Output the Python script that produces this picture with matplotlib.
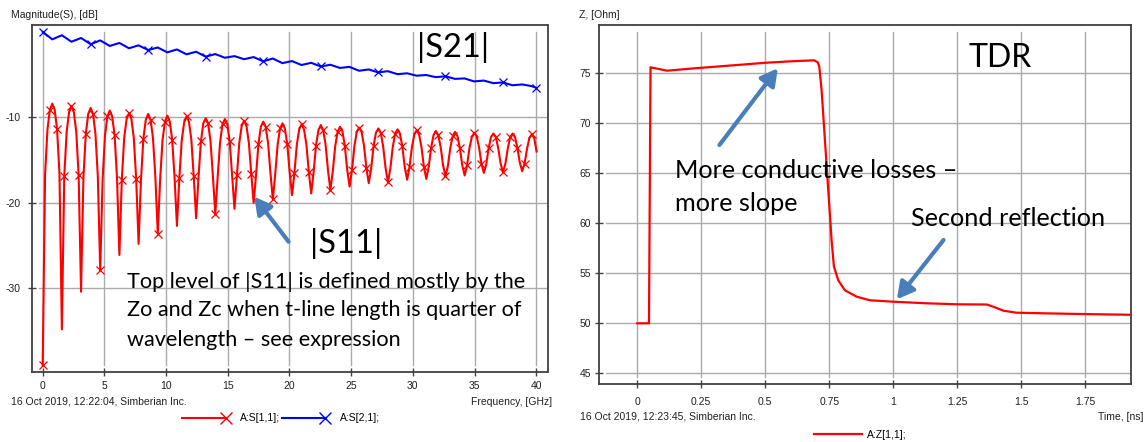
import numpy as np
import matplotlib
matplotlib.use("Agg")
import matplotlib.pyplot as plt
from matplotlib.lines import Line2D
from matplotlib.legend_handler import HandlerLine2D

plt.rcParams["axes.unicode_minus"] = False

# ------------------------------------------------------------------ data
s11_step_ghz = 0.1943
s11_db = [
    -39.0, -16.7, -11.4, -9.1, -8.4, -9.1, -11.4, -16.6,
    -34.8, -16.9, -11.7, -9.4, -8.7, -9.4, -11.7, -16.8,
    -30.4, -17.0, -11.9, -9.6, -8.9, -9.6, -11.9, -16.9,
    -27.9, -17.2, -12.1, -9.9, -9.2, -9.9, -12.1, -17.1,
    -26.1, -17.3, -12.4, -10.2, -9.5, -10.2, -12.4, -17.2,
    -24.8, -17.3, -12.5, -10.3, -9.6, -10.3, -12.4, -17.0,
    -23.6, -17.2, -12.6, -10.5, -9.8, -10.5, -12.6, -17.0,
    -22.7, -17.1, -12.7, -10.6, -9.9, -10.5, -12.6, -16.9,
    -21.8, -17.0, -12.8, -10.7, -10.1, -10.7, -12.8, -16.9,
    -21.3, -16.9, -12.9, -10.8, -10.2, -10.8, -12.8, -16.7,
    -20.7, -16.8, -13.0, -11.0, -10.4, -11.0, -13.0, -16.6,
    -20.0, -16.7, -13.1, -11.1, -10.5, -11.1, -13.0, -16.5,
    -19.6, -16.6, -13.2, -11.3, -10.7, -11.3, -13.1, -16.4,
    -19.1, -16.5, -13.2, -11.4, -10.8, -11.4, -13.2, -16.4,
    -18.9, -16.4, -13.3, -11.5, -10.9, -11.5, -13.2, -16.2,
    -18.5, -16.3, -13.4, -11.7, -11.1, -11.6, -13.3, -16.1,
    -18.1, -16.2, -13.4, -11.7, -11.2, -11.7, -13.3, -15.9,
    -17.7, -16.0, -13.4, -11.8, -11.3, -11.8, -13.4, -15.9,
    -17.6, -16.0, -13.5, -11.9, -11.4, -11.9, -13.4, -15.8,
    -17.3, -15.8, -13.5, -12.0, -11.5, -12.0, -13.5, -15.8,
    -17.2, -15.8, -13.6, -12.1, -11.6, -12.1, -13.5, -15.6,
    -16.9, -15.7, -13.6, -12.2, -11.7, -12.2, -13.6, -15.6,
    -16.8, -15.6, -13.6, -12.3, -11.8, -12.2, -13.5, -15.4,
    -16.5, -15.5, -13.6, -12.3, -11.9, -12.3, -13.6, -15.4,
    -16.4, -15.4, -13.6, -12.3, -11.9, -12.3, -13.6, -15.3,
    -16.3, -15.4, -13.7, -12.4, -12.0, -12.4, -14.0,
]

# |S21| sampled every s21_step_ghz, last sample at s21_end_ghz
s21_step_ghz = 0.777
s21_end_ghz = 40.0
s21_db = [
    0.0, -0.88, -0.40, -1.16, -0.72, -1.45, -1.00, -1.65, -1.30, -1.92,
    -1.58, -2.13, -1.83, -2.40, -2.06, -2.63, -2.33, -2.90, -2.60, -3.03,
    -2.84, -3.20, -2.95, -3.45, -3.12, -3.66, -3.42, -3.88, -3.62, -4.05,
    -3.85, -4.22, -4.10, -4.55, -4.40, -4.75, -4.60, -4.95, -4.85, -5.13,
    -5.05, -5.30, -5.20, -5.50, -5.45, -5.80, -5.70, -6.00, -5.92, -6.25,
    -6.15, -6.35, -6.55,
]
s21_marker_idx = [0, 5, 11, 17, 23, 29, 35, 42, 48, 52]

# TDR impedance
tdr_time_ns = [0.0, 0.046, 0.052, 0.117, 0.20, 0.30, 0.40, 0.50, 0.60, 0.69,
               0.705, 0.711, 0.720, 0.733, 0.746, 0.759, 0.768, 0.785, 0.811,
               0.857, 0.909, 1.00, 1.13, 1.25, 1.365, 1.39, 1.43, 1.48, 1.586,
               1.73, 1.93]
tdr_z_ohm = [50.0, 50.0, 75.6, 75.26, 75.45, 75.65, 75.85, 76.05, 76.2, 76.3,
             76.1, 75.66, 73.3, 68.3, 63.3, 58.3, 55.7, 54.3, 53.3,
             52.66, 52.3, 52.16, 52.0, 51.9, 51.88, 51.66, 51.26, 51.06, 51.0,
             50.93, 50.85]

freq_ticks = [0, 5, 10, 15, 20, 25, 30, 35, 40]
mag_ticks = [-30, -20, -10]
time_ticks = [0, 0.25, 0.5, 0.75, 1.0, 1.25, 1.5, 1.75]
time_tick_labels = ["0", "0.25", "0.5", "0.75", "1", "1.25", "1.5", "1.75"]
z_ticks = [45, 50, 55, 60, 65, 70, 75]

# ------------------------------------------------------------------ figure
W, H = 1144, 442
fig = plt.figure(figsize=(W / 100, H / 100), dpi=100)
fig.patch.set_facecolor("white")

TICK_FONT = "Liberation Sans"
ANN_FONT = "Lato"
SPINE = "#404040"
GRID = "#ABABAB"
ARROW = "#4A7EBB"


def px_axes(l, t, r, b):
    return fig.add_axes([l / W, 1 - b / H, (r - l) / W, (b - t) / H])


def style_axes(ax, inset_px=7):
    for s in ax.spines.values():
        s.set_color(SPINE)
        s.set_linewidth(1.3)
    bb = ax.get_position()
    wpx, hpx = bb.width * W, bb.height * H
    fx, fy = inset_px / wpx, inset_px / hpx
    for x in ax.get_xticks():
        ax.axvline(x, ymin=fy, ymax=1 - fy, color=GRID, lw=1.0, zorder=0.5)
    for y in ax.get_yticks():
        ax.axhline(y, xmin=fx, xmax=1, color=GRID, lw=1.0, zorder=0.5)
    ax.tick_params(direction="inout", length=6, width=1.0, color=SPINE,
                   labelsize=7.5, labelcolor="#202020")
    for lab in ax.get_xticklabels() + ax.get_yticklabels():
        lab.set_fontfamily(TICK_FONT)


class EndMarkerHandler(HandlerLine2D):
    def create_artists(self, legend, orig_handle, xdescent, ydescent,
                       width, height, fontsize, trans):
        y = (height - ydescent) / 2.0
        x0, x1 = -xdescent, width - xdescent
        arts = [Line2D([x0, x1], [y, y], color=orig_handle.get_color(),
                       lw=orig_handle.get_linewidth())]
        mk = orig_handle.get_marker()
        if mk not in (None, "None", "", " "):
            arts.append(Line2D([x1], [y], ls="none", marker=mk,
                               markersize=8, mew=1.0,
                               color=orig_handle.get_color()))
        for a in arts:
            a.set_transform(trans)
        return arts


# ---------------------------------------------------------------- left axes
ax1 = px_axes(31.7, 25, 547.5, 371.7)
s11_freq = np.arange(len(s11_db)) * s11_step_ghz
s21_freq = np.append(np.arange(len(s21_db) - 1) * s21_step_ghz, s21_end_ghz)

l11, = ax1.plot(s11_freq, s11_db, color="#FF0000", lw=1.5, marker="x",
                markersize=6, mew=0.9, markevery=3, zorder=3)
l21, = ax1.plot(s21_freq, s21_db, color="#0000FF", lw=1.5, marker="x",
                markersize=6, mew=0.9, markevery=s21_marker_idx, zorder=3)
ax1.set_xlim(-0.89, 40.91)
ax1.set_ylim(-39.75, 0.8)
ax1.set_xticks(freq_ticks)
ax1.set_yticks(mag_ticks)
style_axes(ax1)
ax1.tick_params(axis="x", pad=4)
ax1.tick_params(axis="y", pad=5)

fig.text(10.7 / W, 1 - 15 / H, "Magnitude(S), [dB]", fontsize=7.5,
         family=TICK_FONT, va="center", ha="left", color="#202020")
fig.text(10.7 / W, 1 - 401.7 / H, "16 Oct 2019, 12:22:04, Simberian Inc.",
         fontsize=7.5, family=TICK_FONT, va="center", ha="left", color="#202020")
fig.text(551.8 / W, 1 - 401.7 / H, "Frequency, [GHz]", fontsize=7.5,
         family=TICK_FONT, va="center", ha="right", color="#202020")
fig.legend(handles=[l11, l21], labels=["A:S[1,1];", "A:S[2,1];"],
           loc="center", bbox_to_anchor=(281 / W, 1 - 418.3 / H), ncol=2,
           frameon=False, handlelength=4.2, handletextpad=1.4,
           columnspacing=0.1, prop={"family": TICK_FONT, "size": 7.5},
           handler_map={Line2D: EndMarkerHandler()})

ax1.text(33.29, -1.84, "|S21|", family=ANN_FONT, fontsize=23.5,
         ha="center", va="center")
ax1.text(24.62, -24.7, "|S11|", family=ANN_FONT, fontsize=23.5,
         ha="center", va="center")
for txt, yv in [("Top level of |S11| is defined mostly by the", -29.23),
                ("Zo and Zc when t-line length is quarter of", -32.54),
                ("wavelength \u2013 see expression", -36.05)]:
    ax1.text(6.82, yv, txt, family=ANN_FONT, fontsize=15.6, ha="left",
             va="center")
ax1.annotate("", xy=(17.15, -19.29), xytext=(19.93, -24.55),
             arrowprops=dict(arrowstyle="-|>,head_length=1.0,head_width=0.55",
                             color=ARROW, lw=3, mutation_scale=10,
                             shrinkA=0, shrinkB=0))

# ---------------------------------------------------------------- right axes
ax2 = px_axes(599.3, 25, 1131, 384.3)
lz, = ax2.plot(tdr_time_ns, tdr_z_ohm, color="#FF0000", lw=1.6, zorder=3)
ax2.set_xlim(-0.148, 1.928)
ax2.set_ylim(43.9, 79.83)
ax2.set_xticks(time_ticks)
ax2.set_xticklabels(time_tick_labels)
ax2.set_yticks(z_ticks)
style_axes(ax2)
ax2.tick_params(axis="x", pad=6)
ax2.tick_params(axis="y", pad=3)

fig.text(578.6 / W, 1 - 15 / H, "Z, [Ohm]", fontsize=7.5, family=TICK_FONT,
         va="center", ha="left", color="#202020")
fig.text(580.5 / W, 1 - 416.7 / H, "16 Oct 2019, 12:23:45, Simberian Inc.",
         fontsize=7.5, family=TICK_FONT, va="center", ha="left", color="#202020")
fig.text(1143 / W, 1 - 416.7 / H, "Time, [ns]", fontsize=7.5,
         family=TICK_FONT, va="center", ha="right", color="#202020")
fig.legend(handles=[lz], labels=["A:Z[1,1];"], loc="center",
           bbox_to_anchor=(860 / W, 1 - 435 / H), frameon=False,
           handlelength=4.6, handletextpad=0.5,
           prop={"family": TICK_FONT, "size": 7.5},
           handler_map={Line2D: EndMarkerHandler()})

ax2.text(1.417, 76.5, "TDR", family=ANN_FONT, fontsize=23, ha="center",
         va="center")
ax2.text(0.146, 65.33, "More conductive losses \u2013", family=ANN_FONT,
         fontsize=18.2, ha="left", va="center")
ax2.text(0.146, 62.03, "more slope", family=ANN_FONT, fontsize=18.2,
         ha="left", va="center")
ax2.text(1.069, 60.53, "Second reflection", family=ANN_FONT, fontsize=18.2,
         ha="left", va="center")
ax2.annotate("", xy=(0.549, 75.5), xytext=(0.321, 67.83),
             arrowprops=dict(arrowstyle="-|>,head_length=1.0,head_width=0.55",
                             color=ARROW, lw=3, mutation_scale=10,
                             shrinkA=0, shrinkB=0))
ax2.annotate("", xy=(1.014, 52.4), xytext=(1.196, 58.33),
             arrowprops=dict(arrowstyle="-|>,head_length=1.0,head_width=0.55",
                             color=ARROW, lw=3, mutation_scale=10,
                             shrinkA=0, shrinkB=0))

fig.savefig("out.png", dpi=100, facecolor="white")
